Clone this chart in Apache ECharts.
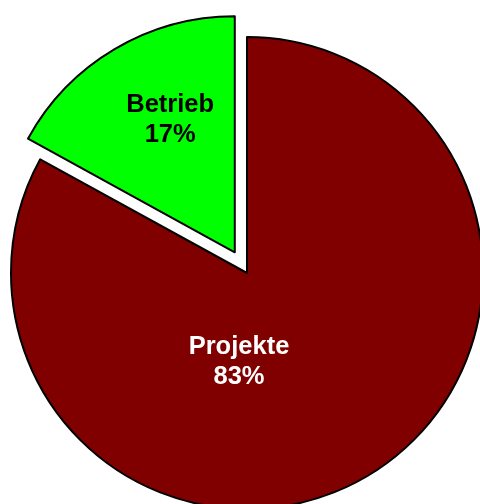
<!DOCTYPE html>
<html>
<head>
<meta charset="utf-8">
<style>
html,body{margin:0;padding:0;background:#fff;}
#chart{width:480px;height:504px;}
</style>
<script src="https://cdn.jsdelivr.net/npm/echarts@6/dist/echarts.min.js"></script>
</head>
<body>
<div id="chart"></div>
<script>
var categories = ['Projekte', 'Betrieb'];
var values = [83, 17];
var colors = ['#800000', '#00FF00'];
var labelColors = ['#ffffff', '#000000'];
var exploded = [false, true];

var labelPos = [[239, 362], null];
var labelPadding = [[0, 0, 0, 0], [0, 6, 0, 0]];
var labelSpacer = [0, 56];

var chart = echarts.init(document.getElementById('chart'), null, {renderer: 'canvas'});
chart.setOption({
  animation: false,
  backgroundColor: '#ffffff',
  series: [{
    type: 'pie',
    center: [247, 273],
    radius: 236,
    startAngle: 90,
    clockwise: true,
    selectedMode: 'multiple',
    selectedOffset: 24,
    avoidLabelOverlap: false,
    emphasis: {disabled: true},
    itemStyle: {borderColor: '#000000', borderWidth: 2},
    label: {
      show: true,
      position: 'inside',
      formatter: function (p) {
        var s = p.name + '\n' + Math.round(p.percent) + '%';
        if (labelSpacer[p.dataIndex]) s += '\n{sp| }';
        return s;
      },
      fontFamily: 'Liberation Sans, Arial, sans-serif',
      fontWeight: 'bold',
      fontSize: 25.5,
      lineHeight: 30,
      align: 'center',
      rich: {
        sp: {fontSize: 1, lineHeight: 56, height: 56}
      }
    },
    labelLine: {show: false},
    labelLayout: function (params) {
      var p = labelPos[params.dataIndex];
      if (!p) return {};
      return {x: p[0], y: p[1], align: 'center', verticalAlign: 'middle'};
    },
    data: categories.map(function (c, i) {
      return {
        name: c,
        value: values[i],
        selected: exploded[i],
        itemStyle: {color: colors[i]},
        label: {color: labelColors[i], padding: labelPadding[i]}
      };
    })
  }]
});
</script>
</body>
</html>
